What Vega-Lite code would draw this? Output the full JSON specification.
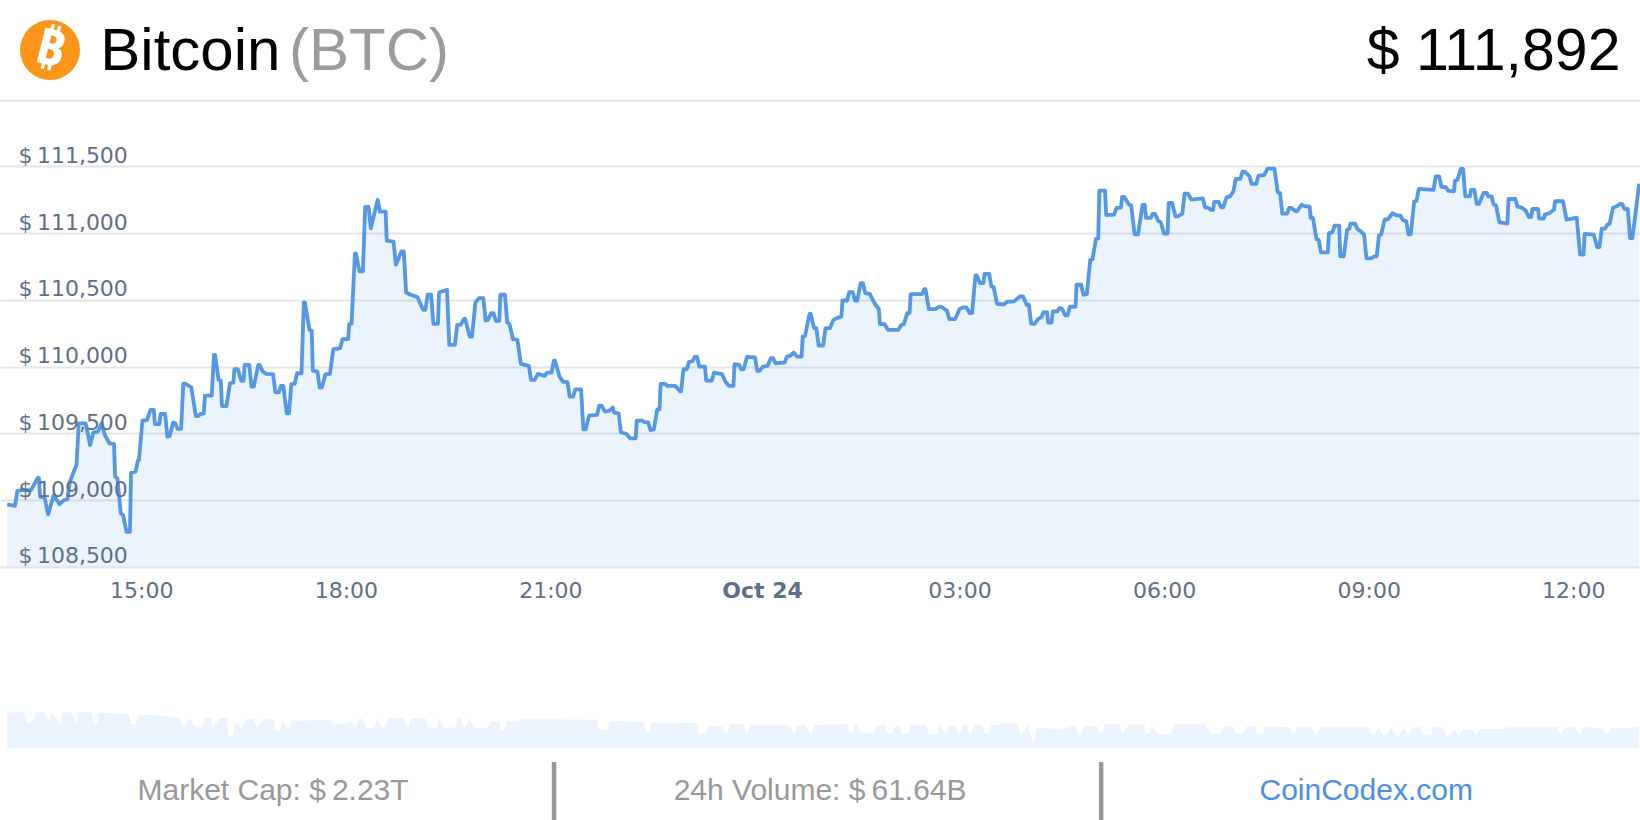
{
"$schema":"https://vega.github.io/schema/vega-lite/v6.json",
"width":1640,"height":820,"padding":0,"autosize":{"type":"none"},"background":"white","view":{"stroke":null},
"datasets":{
"price":[
{"t":"2025-10-23T13:02","p":108968},{"t":"2025-10-23T13:09","p":108958},{"t":"2025-10-23T13:11","p":109070},{"t":"2025-10-23T13:15","p":109075},{"t":"2025-10-23T13:23","p":109075},{"t":"2025-10-23T13:29","p":109168},{"t":"2025-10-23T13:30","p":109163},{"t":"2025-10-23T13:31","p":109025},{"t":"2025-10-23T13:35","p":109020},{"t":"2025-10-23T13:38","p":108893},{"t":"2025-10-23T13:43","p":109038},{"t":"2025-10-23T13:48","p":108970},{"t":"2025-10-23T13:52","p":109000},{"t":"2025-10-23T13:55","p":109005},{"t":"2025-10-23T13:57","p":109133},
{"t":"2025-10-23T14:00","p":109200},{"t":"2025-10-23T14:03","p":109263},{"t":"2025-10-23T14:05","p":109575},{"t":"2025-10-23T14:11","p":109575},{"t":"2025-10-23T14:15","p":109413},{"t":"2025-10-23T14:18","p":109508},{"t":"2025-10-23T14:22","p":109513},{"t":"2025-10-23T14:25","p":109575},{"t":"2025-10-23T14:28","p":109488},{"t":"2025-10-23T14:32","p":109425},{"t":"2025-10-23T14:36","p":109420},{"t":"2025-10-23T14:37","p":109175},{"t":"2025-10-23T14:39","p":109163},{"t":"2025-10-23T14:42","p":108900},{"t":"2025-10-23T14:44","p":108888},{"t":"2025-10-23T14:47","p":108763},{"t":"2025-10-23T14:50","p":108763},{"t":"2025-10-23T14:51","p":109205},{"t":"2025-10-23T14:55","p":109213},{"t":"2025-10-23T14:57","p":109295},{"t":"2025-10-23T14:58","p":109300},
{"t":"2025-10-23T15:01","p":109595},{"t":"2025-10-23T15:05","p":109600},{"t":"2025-10-23T15:08","p":109675},{"t":"2025-10-23T15:11","p":109675},{"t":"2025-10-23T15:12","p":109570},{"t":"2025-10-23T15:16","p":109570},{"t":"2025-10-23T15:17","p":109645},{"t":"2025-10-23T15:21","p":109645},{"t":"2025-10-23T15:23","p":109475},{"t":"2025-10-23T15:25","p":109480},{"t":"2025-10-23T15:28","p":109580},{"t":"2025-10-23T15:30","p":109575},{"t":"2025-10-23T15:32","p":109533},{"t":"2025-10-23T15:35","p":109533},{"t":"2025-10-23T15:37","p":109870},{"t":"2025-10-23T15:39","p":109870},{"t":"2025-10-23T15:44","p":109845},{"t":"2025-10-23T15:48","p":109630},{"t":"2025-10-23T15:50","p":109630},{"t":"2025-10-23T15:52","p":109645},{"t":"2025-10-23T15:55","p":109650},{"t":"2025-10-23T15:56","p":109783},
{"t":"2025-10-23T16:02","p":109783},{"t":"2025-10-23T16:04","p":110088},{"t":"2025-10-23T16:05","p":110088},{"t":"2025-10-23T16:08","p":109900},{"t":"2025-10-23T16:10","p":109895},{"t":"2025-10-23T16:11","p":109705},{"t":"2025-10-23T16:15","p":109705},{"t":"2025-10-23T16:18","p":109875},{"t":"2025-10-23T16:21","p":109880},{"t":"2025-10-23T16:22","p":109980},{"t":"2025-10-23T16:25","p":109980},{"t":"2025-10-23T16:28","p":109893},{"t":"2025-10-23T16:30","p":109893},{"t":"2025-10-23T16:31","p":110013},{"t":"2025-10-23T16:35","p":110013},{"t":"2025-10-23T16:37","p":109850},{"t":"2025-10-23T16:39","p":109850},{"t":"2025-10-23T16:43","p":110013},{"t":"2025-10-23T16:44","p":110013},{"t":"2025-10-23T16:47","p":109963},{"t":"2025-10-23T16:50","p":109945},{"t":"2025-10-23T16:56","p":109943},{"t":"2025-10-23T16:58","p":109808},
{"t":"2025-10-23T17:01","p":109808},{"t":"2025-10-23T17:03","p":109855},{"t":"2025-10-23T17:05","p":109855},{"t":"2025-10-23T17:08","p":109650},{"t":"2025-10-23T17:10","p":109650},{"t":"2025-10-23T17:12","p":109868},{"t":"2025-10-23T17:15","p":109870},{"t":"2025-10-23T17:17","p":109950},{"t":"2025-10-23T17:21","p":109950},{"t":"2025-10-23T17:23","p":110480},{"t":"2025-10-23T17:24","p":110480},{"t":"2025-10-23T17:28","p":110275},{"t":"2025-10-23T17:30","p":110270},{"t":"2025-10-23T17:31","p":109970},{"t":"2025-10-23T17:35","p":109963},{"t":"2025-10-23T17:37","p":109843},{"t":"2025-10-23T17:39","p":109845},{"t":"2025-10-23T17:42","p":109943},{"t":"2025-10-23T17:46","p":109945},{"t":"2025-10-23T17:49","p":110130},{"t":"2025-10-23T17:55","p":110138},{"t":"2025-10-23T17:57","p":110205},
{"t":"2025-10-23T18:02","p":110205},{"t":"2025-10-23T18:03","p":110318},{"t":"2025-10-23T18:05","p":110320},{"t":"2025-10-23T18:08","p":110845},{"t":"2025-10-23T18:09","p":110845},{"t":"2025-10-23T18:12","p":110713},{"t":"2025-10-23T18:15","p":110713},{"t":"2025-10-23T18:17","p":111195},{"t":"2025-10-23T18:20","p":111195},{"t":"2025-10-23T18:22","p":111036},{"t":"2025-10-23T18:28","p":111248},{"t":"2025-10-23T18:30","p":111160},{"t":"2025-10-23T18:35","p":111160},{"t":"2025-10-23T18:36","p":110943},{"t":"2025-10-23T18:42","p":110935},{"t":"2025-10-23T18:44","p":110763},{"t":"2025-10-23T18:49","p":110863},{"t":"2025-10-23T18:51","p":110863},{"t":"2025-10-23T18:53","p":110555},{"t":"2025-10-23T18:57","p":110538},
{"t":"2025-10-23T19:03","p":110520},{"t":"2025-10-23T19:08","p":110425},{"t":"2025-10-23T19:10","p":110425},{"t":"2025-10-23T19:12","p":110538},{"t":"2025-10-23T19:15","p":110538},{"t":"2025-10-23T19:17","p":110320},{"t":"2025-10-23T19:21","p":110320},{"t":"2025-10-23T19:22","p":110555},{"t":"2025-10-23T19:29","p":110575},{"t":"2025-10-23T19:31","p":110163},{"t":"2025-10-23T19:36","p":110163},{"t":"2025-10-23T19:38","p":110313},{"t":"2025-10-23T19:41","p":110313},{"t":"2025-10-23T19:44","p":110358},{"t":"2025-10-23T19:45","p":110358},{"t":"2025-10-23T19:49","p":110225},{"t":"2025-10-23T19:51","p":110225},{"t":"2025-10-23T19:54","p":110480},{"t":"2025-10-23T19:57","p":110513},
{"t":"2025-10-23T20:01","p":110513},{"t":"2025-10-23T20:03","p":110345},{"t":"2025-10-23T20:05","p":110350},{"t":"2025-10-23T20:08","p":110400},{"t":"2025-10-23T20:10","p":110400},{"t":"2025-10-23T20:12","p":110343},{"t":"2025-10-23T20:15","p":110343},{"t":"2025-10-23T20:16","p":110538},{"t":"2025-10-23T20:20","p":110538},{"t":"2025-10-23T20:22","p":110330},{"t":"2025-10-23T20:24","p":110320},{"t":"2025-10-23T20:27","p":110205},{"t":"2025-10-23T20:31","p":110200},{"t":"2025-10-23T20:34","p":110020},{"t":"2025-10-23T20:41","p":110005},{"t":"2025-10-23T20:43","p":109900},{"t":"2025-10-23T20:46","p":109900},{"t":"2025-10-23T20:49","p":109945},{"t":"2025-10-23T20:55","p":109930},{"t":"2025-10-23T20:57","p":109955},
{"t":"2025-10-23T21:01","p":109955},{"t":"2025-10-23T21:03","p":110045},{"t":"2025-10-23T21:04","p":110045},{"t":"2025-10-23T21:08","p":109925},{"t":"2025-10-23T21:11","p":109888},{"t":"2025-10-23T21:15","p":109883},{"t":"2025-10-23T21:17","p":109775},{"t":"2025-10-23T21:20","p":109775},{"t":"2025-10-23T21:22","p":109830},{"t":"2025-10-23T21:27","p":109830},{"t":"2025-10-23T21:29","p":109530},{"t":"2025-10-23T21:31","p":109530},{"t":"2025-10-23T21:34","p":109633},{"t":"2025-10-23T21:41","p":109638},{"t":"2025-10-23T21:43","p":109708},{"t":"2025-10-23T21:45","p":109708},{"t":"2025-10-23T21:48","p":109663},{"t":"2025-10-23T21:52","p":109670},{"t":"2025-10-23T21:55","p":109693},{"t":"2025-10-23T21:56","p":109655},
{"t":"2025-10-23T22:00","p":109650},{"t":"2025-10-23T22:02","p":109508},{"t":"2025-10-23T22:07","p":109495},{"t":"2025-10-23T22:10","p":109463},{"t":"2025-10-23T22:15","p":109463},{"t":"2025-10-23T22:16","p":109595},{"t":"2025-10-23T22:21","p":109595},{"t":"2025-10-23T22:23","p":109583},{"t":"2025-10-23T22:26","p":109583},{"t":"2025-10-23T22:28","p":109525},{"t":"2025-10-23T22:31","p":109530},{"t":"2025-10-23T22:34","p":109680},{"t":"2025-10-23T22:36","p":109680},{"t":"2025-10-23T22:37","p":109870},{"t":"2025-10-23T22:41","p":109870},{"t":"2025-10-23T22:43","p":109855},{"t":"2025-10-23T22:50","p":109855},{"t":"2025-10-23T22:54","p":109815},{"t":"2025-10-23T22:55","p":109815},{"t":"2025-10-23T22:57","p":109980},
{"t":"2025-10-23T23:00","p":109980},{"t":"2025-10-23T23:02","p":110035},{"t":"2025-10-23T23:05","p":110040},{"t":"2025-10-23T23:07","p":110073},{"t":"2025-10-23T23:09","p":110073},{"t":"2025-10-23T23:11","p":110000},{"t":"2025-10-23T23:16","p":110000},{"t":"2025-10-23T23:17","p":109895},{"t":"2025-10-23T23:22","p":109895},{"t":"2025-10-23T23:24","p":109955},{"t":"2025-10-23T23:27","p":109950},{"t":"2025-10-23T23:31","p":109943},{"t":"2025-10-23T23:34","p":109888},{"t":"2025-10-23T23:37","p":109855},{"t":"2025-10-23T23:41","p":109855},{"t":"2025-10-23T23:42","p":110018},{"t":"2025-10-23T23:46","p":110013},{"t":"2025-10-23T23:48","p":109980},{"t":"2025-10-23T23:50","p":109980},{"t":"2025-10-23T23:53","p":110073},
{"t":"2025-10-24T00:00","p":110068},{"t":"2025-10-24T00:02","p":109968},{"t":"2025-10-24T00:04","p":109968},{"t":"2025-10-24T00:07","p":110000},{"t":"2025-10-24T00:11","p":110005},{"t":"2025-10-24T00:14","p":110063},{"t":"2025-10-24T00:16","p":110063},{"t":"2025-10-24T00:18","p":110025},{"t":"2025-10-24T00:26","p":110030},{"t":"2025-10-24T00:28","p":110075},{"t":"2025-10-24T00:31","p":110080},{"t":"2025-10-24T00:34","p":110105},{"t":"2025-10-24T00:37","p":110075},{"t":"2025-10-24T00:41","p":110075},{"t":"2025-10-24T00:42","p":110225},{"t":"2025-10-24T00:44","p":110230},{"t":"2025-10-24T00:48","p":110395},{"t":"2025-10-24T00:49","p":110395},{"t":"2025-10-24T00:52","p":110288},{"t":"2025-10-24T00:54","p":110288},{"t":"2025-10-24T00:56","p":110158},
{"t":"2025-10-24T01:00","p":110158},{"t":"2025-10-24T01:02","p":110288},{"t":"2025-10-24T01:06","p":110288},{"t":"2025-10-24T01:09","p":110350},{"t":"2025-10-24T01:12","p":110363},{"t":"2025-10-24T01:16","p":110375},{"t":"2025-10-24T01:17","p":110495},{"t":"2025-10-24T01:21","p":110495},{"t":"2025-10-24T01:23","p":110558},{"t":"2025-10-24T01:26","p":110558},{"t":"2025-10-24T01:28","p":110495},{"t":"2025-10-24T01:30","p":110495},{"t":"2025-10-24T01:33","p":110625},{"t":"2025-10-24T01:35","p":110625},{"t":"2025-10-24T01:37","p":110550},{"t":"2025-10-24T01:41","p":110545},{"t":"2025-10-24T01:44","p":110493},{"t":"2025-10-24T01:46","p":110463},{"t":"2025-10-24T01:49","p":110430},{"t":"2025-10-24T01:50","p":110318},{"t":"2025-10-24T01:54","p":110318},{"t":"2025-10-24T01:57","p":110275},
{"t":"2025-10-24T02:06","p":110275},{"t":"2025-10-24T02:09","p":110313},{"t":"2025-10-24T02:11","p":110318},{"t":"2025-10-24T02:14","p":110400},{"t":"2025-10-24T02:16","p":110400},{"t":"2025-10-24T02:17","p":110543},{"t":"2025-10-24T02:27","p":110543},{"t":"2025-10-24T02:29","p":110580},{"t":"2025-10-24T02:30","p":110580},{"t":"2025-10-24T02:33","p":110430},{"t":"2025-10-24T02:39","p":110430},{"t":"2025-10-24T02:42","p":110448},{"t":"2025-10-24T02:44","p":110448},{"t":"2025-10-24T02:49","p":110418},{"t":"2025-10-24T02:51","p":110355},{"t":"2025-10-24T02:56","p":110355},
{"t":"2025-10-24T03:00","p":110430},{"t":"2025-10-24T03:03","p":110443},{"t":"2025-10-24T03:06","p":110443},{"t":"2025-10-24T03:09","p":110400},{"t":"2025-10-24T03:11","p":110400},{"t":"2025-10-24T03:14","p":110683},{"t":"2025-10-24T03:15","p":110683},{"t":"2025-10-24T03:18","p":110625},{"t":"2025-10-24T03:21","p":110625},{"t":"2025-10-24T03:22","p":110695},{"t":"2025-10-24T03:26","p":110695},{"t":"2025-10-24T03:28","p":110600},{"t":"2025-10-24T03:30","p":110595},{"t":"2025-10-24T03:33","p":110470},{"t":"2025-10-24T03:39","p":110465},{"t":"2025-10-24T03:42","p":110485},{"t":"2025-10-24T03:48","p":110488},{"t":"2025-10-24T03:53","p":110525},{"t":"2025-10-24T03:56","p":110525},{"t":"2025-10-24T03:59","p":110463},
{"t":"2025-10-24T04:01","p":110463},{"t":"2025-10-24T04:03","p":110320},{"t":"2025-10-24T04:06","p":110320},{"t":"2025-10-24T04:09","p":110355},{"t":"2025-10-24T04:12","p":110370},{"t":"2025-10-24T04:14","p":110408},{"t":"2025-10-24T04:17","p":110408},{"t":"2025-10-24T04:18","p":110330},{"t":"2025-10-24T04:21","p":110330},{"t":"2025-10-24T04:22","p":110413},{"t":"2025-10-24T04:26","p":110413},{"t":"2025-10-24T04:28","p":110440},{"t":"2025-10-24T04:30","p":110435},{"t":"2025-10-24T04:33","p":110383},{"t":"2025-10-24T04:35","p":110383},{"t":"2025-10-24T04:37","p":110448},{"t":"2025-10-24T04:42","p":110448},{"t":"2025-10-24T04:43","p":110613},{"t":"2025-10-24T04:47","p":110613},{"t":"2025-10-24T04:49","p":110538},{"t":"2025-10-24T04:52","p":110543},{"t":"2025-10-24T04:55","p":110800},{"t":"2025-10-24T04:57","p":110805},
{"t":"2025-10-24T05:00","p":110955},{"t":"2025-10-24T05:02","p":110960},{"t":"2025-10-24T05:03","p":111318},{"t":"2025-10-24T05:08","p":111318},{"t":"2025-10-24T05:09","p":111135},{"t":"2025-10-24T05:16","p":111138},{"t":"2025-10-24T05:18","p":111188},{"t":"2025-10-24T05:22","p":111190},{"t":"2025-10-24T05:23","p":111270},{"t":"2025-10-24T05:25","p":111270},{"t":"2025-10-24T05:29","p":111213},{"t":"2025-10-24T05:31","p":111208},{"t":"2025-10-24T05:34","p":110990},{"t":"2025-10-24T05:37","p":110990},{"t":"2025-10-24T05:41","p":111210},{"t":"2025-10-24T05:43","p":111210},{"t":"2025-10-24T05:44","p":111113},{"t":"2025-10-24T05:48","p":111113},{"t":"2025-10-24T05:50","p":111143},{"t":"2025-10-24T05:52","p":111143},{"t":"2025-10-24T05:55","p":111088},{"t":"2025-10-24T05:57","p":111083},
{"t":"2025-10-24T06:00","p":110995},{"t":"2025-10-24T06:03","p":110995},{"t":"2025-10-24T06:04","p":111225},{"t":"2025-10-24T06:07","p":111225},{"t":"2025-10-24T06:10","p":111125},{"t":"2025-10-24T06:12","p":111125},{"t":"2025-10-24T06:16","p":111145},{"t":"2025-10-24T06:18","p":111295},{"t":"2025-10-24T06:21","p":111295},{"t":"2025-10-24T06:24","p":111250},{"t":"2025-10-24T06:34","p":111260},{"t":"2025-10-24T06:36","p":111193},{"t":"2025-10-24T06:39","p":111188},{"t":"2025-10-24T06:41","p":111173},{"t":"2025-10-24T06:43","p":111173},{"t":"2025-10-24T06:44","p":111233},{"t":"2025-10-24T06:48","p":111233},{"t":"2025-10-24T06:50","p":111193},{"t":"2025-10-24T06:52","p":111193},{"t":"2025-10-24T06:55","p":111268},{"t":"2025-10-24T06:58","p":111275},
{"t":"2025-10-24T07:01","p":111313},{"t":"2025-10-24T07:03","p":111405},{"t":"2025-10-24T07:07","p":111405},{"t":"2025-10-24T07:09","p":111460},{"t":"2025-10-24T07:11","p":111460},{"t":"2025-10-24T07:15","p":111425},{"t":"2025-10-24T07:17","p":111368},{"t":"2025-10-24T07:21","p":111368},{"t":"2025-10-24T07:23","p":111430},{"t":"2025-10-24T07:28","p":111433},{"t":"2025-10-24T07:31","p":111483},{"t":"2025-10-24T07:37","p":111483},{"t":"2025-10-24T07:40","p":111305},{"t":"2025-10-24T07:42","p":111300},{"t":"2025-10-24T07:44","p":111145},{"t":"2025-10-24T07:48","p":111145},{"t":"2025-10-24T07:50","p":111188},{"t":"2025-10-24T07:52","p":111188},{"t":"2025-10-24T07:56","p":111163},{"t":"2025-10-24T07:57","p":111163},
{"t":"2025-10-24T08:01","p":111213},{"t":"2025-10-24T08:04","p":111200},{"t":"2025-10-24T08:08","p":111200},{"t":"2025-10-24T08:09","p":111113},{"t":"2025-10-24T08:11","p":111113},{"t":"2025-10-24T08:14","p":110955},{"t":"2025-10-24T08:16","p":110950},{"t":"2025-10-24T08:18","p":110855},{"t":"2025-10-24T08:24","p":110855},{"t":"2025-10-24T08:25","p":111000},{"t":"2025-10-24T08:28","p":111005},{"t":"2025-10-24T08:30","p":111055},{"t":"2025-10-24T08:34","p":111055},{"t":"2025-10-24T08:35","p":110825},{"t":"2025-10-24T08:38","p":110825},{"t":"2025-10-24T08:41","p":111025},{"t":"2025-10-24T08:43","p":111030},{"t":"2025-10-24T08:44","p":111070},{"t":"2025-10-24T08:48","p":111070},{"t":"2025-10-24T08:50","p":111030},{"t":"2025-10-24T08:53","p":111013},{"t":"2025-10-24T08:56","p":110988},{"t":"2025-10-24T08:58","p":110810},
{"t":"2025-10-24T09:02","p":110810},{"t":"2025-10-24T09:05","p":110825},{"t":"2025-10-24T09:07","p":110825},{"t":"2025-10-24T09:09","p":110983},{"t":"2025-10-24T09:11","p":110988},{"t":"2025-10-24T09:14","p":111100},{"t":"2025-10-24T09:17","p":111105},{"t":"2025-10-24T09:21","p":111148},{"t":"2025-10-24T09:24","p":111135},{"t":"2025-10-24T09:28","p":111130},{"t":"2025-10-24T09:30","p":111098},{"t":"2025-10-24T09:33","p":111088},{"t":"2025-10-24T09:35","p":110990},{"t":"2025-10-24T09:37","p":110990},{"t":"2025-10-24T09:40","p":111235},{"t":"2025-10-24T09:42","p":111240},{"t":"2025-10-24T09:44","p":111330},{"t":"2025-10-24T09:57","p":111323},{"t":"2025-10-24T09:59","p":111425},
{"t":"2025-10-24T10:02","p":111425},{"t":"2025-10-24T10:04","p":111345},{"t":"2025-10-24T10:08","p":111343},{"t":"2025-10-24T10:10","p":111315},{"t":"2025-10-24T10:15","p":111313},{"t":"2025-10-24T10:16","p":111393},{"t":"2025-10-24T10:18","p":111398},{"t":"2025-10-24T10:21","p":111480},{"t":"2025-10-24T10:23","p":111480},{"t":"2025-10-24T10:25","p":111275},{"t":"2025-10-24T10:29","p":111275},{"t":"2025-10-24T10:30","p":111323},{"t":"2025-10-24T10:33","p":111323},{"t":"2025-10-24T10:35","p":111218},{"t":"2025-10-24T10:37","p":111218},{"t":"2025-10-24T10:41","p":111300},{"t":"2025-10-24T10:44","p":111300},{"t":"2025-10-24T10:45","p":111275},{"t":"2025-10-24T10:48","p":111275},{"t":"2025-10-24T10:50","p":111213},{"t":"2025-10-24T10:52","p":111208},{"t":"2025-10-24T10:55","p":111080},
{"t":"2025-10-24T11:02","p":111070},{"t":"2025-10-24T11:03","p":111255},{"t":"2025-10-24T11:09","p":111255},{"t":"2025-10-24T11:11","p":111198},{"t":"2025-10-24T11:14","p":111193},{"t":"2025-10-24T11:18","p":111170},{"t":"2025-10-24T11:21","p":111120},{"t":"2025-10-24T11:23","p":111120},{"t":"2025-10-24T11:24","p":111180},{"t":"2025-10-24T11:29","p":111180},{"t":"2025-10-24T11:30","p":111108},{"t":"2025-10-24T11:34","p":111108},{"t":"2025-10-24T11:35","p":111138},{"t":"2025-10-24T11:39","p":111150},{"t":"2025-10-24T11:43","p":111175},{"t":"2025-10-24T11:44","p":111238},{"t":"2025-10-24T11:51","p":111238},{"t":"2025-10-24T11:54","p":111100},{"t":"2025-10-24T11:57","p":111105},
{"t":"2025-10-24T12:03","p":111115},{"t":"2025-10-24T12:06","p":110838},{"t":"2025-10-24T12:09","p":110838},{"t":"2025-10-24T12:10","p":110993},{"t":"2025-10-24T12:18","p":110988},{"t":"2025-10-24T12:21","p":110895},{"t":"2025-10-24T12:23","p":110895},{"t":"2025-10-24T12:25","p":111033},{"t":"2025-10-24T12:28","p":111033},{"t":"2025-10-24T12:30","p":111063},{"t":"2025-10-24T12:32","p":111070},{"t":"2025-10-24T12:35","p":111190},{"t":"2025-10-24T12:38","p":111200},{"t":"2025-10-24T12:41","p":111218},{"t":"2025-10-24T12:43","p":111218},{"t":"2025-10-24T12:45","p":111180},{"t":"2025-10-24T12:48","p":111180},{"t":"2025-10-24T12:50","p":110963},{"t":"2025-10-24T12:52","p":110963},{"t":"2025-10-24T12:58","p":111370}
],
"volume":[
{"t":"2025-10-23T13:02","v":106},{"t":"2025-10-23T13:07","v":108},{"t":"2025-10-23T13:16","v":109},{"t":"2025-10-23T13:19","v":75},{"t":"2025-10-23T13:24","v":75},{"t":"2025-10-23T13:27","v":108},{"t":"2025-10-23T13:35","v":109},{"t":"2025-10-23T13:38","v":75},{"t":"2025-10-23T13:41","v":108},{"t":"2025-10-23T13:49","v":75},{"t":"2025-10-23T13:51","v":108},{"t":"2025-10-23T13:58","v":108},
{"t":"2025-10-23T14:03","v":75},{"t":"2025-10-23T14:05","v":108},{"t":"2025-10-23T14:16","v":108},{"t":"2025-10-23T14:18","v":75},{"t":"2025-10-23T14:21","v":75},{"t":"2025-10-23T14:23","v":107},{"t":"2025-10-23T14:49","v":102},{"t":"2025-10-23T14:51","v":72},{"t":"2025-10-23T14:55","v":72},{"t":"2025-10-23T14:57","v":100},
{"t":"2025-10-23T15:14","v":99},{"t":"2025-10-23T15:25","v":95},{"t":"2025-10-23T15:34","v":91},{"t":"2025-10-23T15:37","v":65},{"t":"2025-10-23T15:43","v":91},{"t":"2025-10-23T15:47","v":63},{"t":"2025-10-23T15:54","v":63},{"t":"2025-10-23T15:56","v":91},
{"t":"2025-10-23T16:01","v":91},{"t":"2025-10-23T16:03","v":62},{"t":"2025-10-23T16:09","v":91},{"t":"2025-10-23T16:15","v":91},{"t":"2025-10-23T16:17","v":35},{"t":"2025-10-23T16:20","v":35},{"t":"2025-10-23T16:23","v":83},{"t":"2025-10-23T16:28","v":55},{"t":"2025-10-23T16:32","v":88},{"t":"2025-10-23T16:39","v":88},{"t":"2025-10-23T16:42","v":60},{"t":"2025-10-23T16:47","v":87},{"t":"2025-10-23T16:56","v":87},{"t":"2025-10-23T16:58","v":52},
{"t":"2025-10-23T17:02","v":52},{"t":"2025-10-23T17:04","v":85},{"t":"2025-10-23T17:09","v":57},{"t":"2025-10-23T17:12","v":83},{"t":"2025-10-23T17:46","v":85},{"t":"2025-10-23T17:49","v":73},
{"t":"2025-10-23T18:01","v":75},{"t":"2025-10-23T18:04","v":85},{"t":"2025-10-23T18:09","v":58},{"t":"2025-10-23T18:11","v":88},{"t":"2025-10-23T18:15","v":88},{"t":"2025-10-23T18:18","v":62},{"t":"2025-10-23T18:24","v":62},{"t":"2025-10-23T18:28","v":90},{"t":"2025-10-23T18:31","v":64},{"t":"2025-10-23T18:35","v":64},{"t":"2025-10-23T18:37","v":90},{"t":"2025-10-23T18:50","v":90},{"t":"2025-10-23T18:55","v":62},{"t":"2025-10-23T18:57","v":90},
{"t":"2025-10-23T19:10","v":90},{"t":"2025-10-23T19:12","v":63},{"t":"2025-10-23T19:20","v":63},{"t":"2025-10-23T19:22","v":90},{"t":"2025-10-23T19:27","v":62},{"t":"2025-10-23T19:36","v":62},{"t":"2025-10-23T19:38","v":90},{"t":"2025-10-23T19:41","v":90},{"t":"2025-10-23T19:44","v":60},{"t":"2025-10-23T19:49","v":89},{"t":"2025-10-23T19:54","v":61},
{"t":"2025-10-23T20:04","v":61},{"t":"2025-10-23T20:08","v":82},{"t":"2025-10-23T20:15","v":82},{"t":"2025-10-23T20:17","v":55},{"t":"2025-10-23T20:20","v":55},{"t":"2025-10-23T20:22","v":82},{"t":"2025-10-23T20:30","v":82},{"t":"2025-10-23T20:35","v":87},
{"t":"2025-10-23T21:41","v":86},{"t":"2025-10-23T21:43","v":55},{"t":"2025-10-23T21:50","v":55},{"t":"2025-10-23T21:53","v":83},
{"t":"2025-10-23T22:22","v":80},{"t":"2025-10-23T22:24","v":51},{"t":"2025-10-23T22:27","v":51},{"t":"2025-10-23T22:29","v":78},
{"t":"2025-10-23T23:09","v":75},{"t":"2025-10-23T23:11","v":43},{"t":"2025-10-23T23:16","v":43},{"t":"2025-10-23T23:18","v":67},{"t":"2025-10-23T23:31","v":67},{"t":"2025-10-23T23:34","v":47},{"t":"2025-10-23T23:36","v":47},{"t":"2025-10-23T23:38","v":72},{"t":"2025-10-23T23:49","v":72},{"t":"2025-10-23T23:53","v":45},{"t":"2025-10-23T23:56","v":70},
{"t":"2025-10-24T00:29","v":70},{"t":"2025-10-24T00:35","v":43},{"t":"2025-10-24T00:37","v":70},{"t":"2025-10-24T00:44","v":70},{"t":"2025-10-24T00:49","v":43},{"t":"2025-10-24T00:53","v":70},
{"t":"2025-10-24T01:21","v":72},{"t":"2025-10-24T01:23","v":47},{"t":"2025-10-24T01:26","v":47},{"t":"2025-10-24T01:28","v":73},{"t":"2025-10-24T01:30","v":73},{"t":"2025-10-24T01:34","v":46},{"t":"2025-10-24T01:44","v":46},{"t":"2025-10-24T01:48","v":70},{"t":"2025-10-24T01:54","v":70},{"t":"2025-10-24T01:57","v":43},
{"t":"2025-10-24T02:01","v":43},{"t":"2025-10-24T02:04","v":70},{"t":"2025-10-24T02:07","v":70},{"t":"2025-10-24T02:09","v":43},{"t":"2025-10-24T02:15","v":43},{"t":"2025-10-24T02:17","v":70},{"t":"2025-10-24T02:30","v":70},{"t":"2025-10-24T02:33","v":43},{"t":"2025-10-24T02:40","v":43},{"t":"2025-10-24T02:42","v":70},{"t":"2025-10-24T02:48","v":43},{"t":"2025-10-24T02:51","v":70},{"t":"2025-10-24T02:56","v":70},
{"t":"2025-10-24T03:00","v":43},{"t":"2025-10-24T03:03","v":70},{"t":"2025-10-24T03:06","v":70},{"t":"2025-10-24T03:09","v":43},{"t":"2025-10-24T03:14","v":70},{"t":"2025-10-24T03:20","v":70},{"t":"2025-10-24T03:22","v":43},{"t":"2025-10-24T03:26","v":43},{"t":"2025-10-24T03:28","v":70},{"t":"2025-10-24T03:35","v":70},{"t":"2025-10-24T03:37","v":77},{"t":"2025-10-24T03:50","v":77},{"t":"2025-10-24T03:54","v":43},
{"t":"2025-10-24T04:00","v":70},{"t":"2025-10-24T04:04","v":23},{"t":"2025-10-24T04:06","v":23},{"t":"2025-10-24T04:08","v":60},{"t":"2025-10-24T04:30","v":59},{"t":"2025-10-24T04:42","v":67},{"t":"2025-10-24T04:44","v":40},{"t":"2025-10-24T04:47","v":40},{"t":"2025-10-24T04:49","v":67},
{"t":"2025-10-24T05:01","v":67},{"t":"2025-10-24T05:03","v":45},{"t":"2025-10-24T05:06","v":45},{"t":"2025-10-24T05:08","v":72},{"t":"2025-10-24T05:20","v":72},{"t":"2025-10-24T05:23","v":45},{"t":"2025-10-24T05:29","v":71},{"t":"2025-10-24T05:42","v":71},{"t":"2025-10-24T05:44","v":43},{"t":"2025-10-24T05:47","v":43},{"t":"2025-10-24T05:49","v":71},{"t":"2025-10-24T05:54","v":43},
{"t":"2025-10-24T06:06","v":43},{"t":"2025-10-24T06:08","v":72},{"t":"2025-10-24T06:36","v":72},{"t":"2025-10-24T06:41","v":43},{"t":"2025-10-24T06:49","v":43},{"t":"2025-10-24T06:54","v":67},
{"t":"2025-10-24T07:00","v":67},{"t":"2025-10-24T07:03","v":43},{"t":"2025-10-24T07:09","v":43},{"t":"2025-10-24T07:13","v":67},{"t":"2025-10-24T07:20","v":67},{"t":"2025-10-24T07:22","v":42},{"t":"2025-10-24T07:27","v":42},{"t":"2025-10-24T07:29","v":66},{"t":"2025-10-24T07:49","v":64},{"t":"2025-10-24T07:54","v":40},{"t":"2025-10-24T07:57","v":63},
{"t":"2025-10-24T08:09","v":63},{"t":"2025-10-24T08:14","v":39},{"t":"2025-10-24T08:17","v":63},
{"t":"2025-10-24T09:00","v":63},{"t":"2025-10-24T09:02","v":39},{"t":"2025-10-24T09:05","v":39},{"t":"2025-10-24T09:08","v":63},{"t":"2025-10-24T09:13","v":40},{"t":"2025-10-24T09:16","v":40},{"t":"2025-10-24T09:20","v":63},{"t":"2025-10-24T09:24","v":38},{"t":"2025-10-24T09:27","v":38},{"t":"2025-10-24T09:29","v":58},{"t":"2025-10-24T09:32","v":58},{"t":"2025-10-24T09:35","v":40},{"t":"2025-10-24T09:39","v":63},{"t":"2025-10-24T09:46","v":63},{"t":"2025-10-24T09:48","v":40},{"t":"2025-10-24T09:55","v":40},{"t":"2025-10-24T09:57","v":63},
{"t":"2025-10-24T10:05","v":63},{"t":"2025-10-24T10:08","v":38},{"t":"2025-10-24T10:12","v":38},{"t":"2025-10-24T10:15","v":58},{"t":"2025-10-24T10:20","v":35},{"t":"2025-10-24T10:23","v":58},{"t":"2025-10-24T10:31","v":55},{"t":"2025-10-24T10:34","v":38},{"t":"2025-10-24T10:39","v":58},
{"t":"2025-10-24T11:01","v":58},{"t":"2025-10-24T11:02","v":63},{"t":"2025-10-24T11:46","v":63},{"t":"2025-10-24T11:49","v":40},{"t":"2025-10-24T11:53","v":63},
{"t":"2025-10-24T12:01","v":63},{"t":"2025-10-24T12:06","v":40},{"t":"2025-10-24T12:09","v":63},{"t":"2025-10-24T12:26","v":60},{"t":"2025-10-24T12:29","v":40},{"t":"2025-10-24T12:33","v":60},{"t":"2025-10-24T12:49","v":61},{"t":"2025-10-24T12:58","v":66}
]
},
"layer":[
{"data":{"name":"volume"},"mark":{"type":"area","color":"#4a90e2","opacity":0.11},
 "encoding":{
  "x":{"field":"t","type":"temporal","axis":null},
  "y":{"field":"v","type":"quantitative","stack":null,"axis":null,"scale":{"domain":[-215,2245],"nice":false,"zero":false}}}},
{"layer":[
 {"data":{"name":"price"},"mark":{"type":"area","color":"#4a90e2","opacity":0.11},
  "encoding":{
   "x":{"field":"t","type":"temporal","title":null,
    "scale":{"domain":["2025-10-23T12:55:42","2025-10-24T12:58:42"],"nice":false},
    "axis":{"orient":"bottom","offset":-253,"title":null,"domain":false,"ticks":false,"grid":false,"labelOverlap":false,"labelPadding":13,
     "labelFont":"DejaVu Sans","labelFontSize":22,"labelColor":"#5e6f8c",
     "labelFontWeight":{"condition":{"test":"hours(datum.value)===0","value":"bold"},"value":"normal"},
     "labelOffset":{"condition":{"test":"hours(datum.value)===0","value":7},"value":0},
     "values":[{"year":2025,"month":10,"date":23,"hours":15},{"year":2025,"month":10,"date":23,"hours":18},{"year":2025,"month":10,"date":23,"hours":21},{"year":2025,"month":10,"date":24,"hours":0},{"year":2025,"month":10,"date":24,"hours":3},{"year":2025,"month":10,"date":24,"hours":6},{"year":2025,"month":10,"date":24,"hours":9},{"year":2025,"month":10,"date":24,"hours":12}],
     "labelExpr":"hours(datum.value)===0 ? 'Oct 24' : timeFormat(datum.value,'%H:%M')"}},
   "y":{"field":"p","type":"quantitative","title":null,
    "scale":{"domain":[106605,112745],"nice":false,"zero":false},
    "axis":{"orient":"left","title":null,"grid":true,"gridColor":"#e6e6e6","gridWidth":2,"labels":false,"ticks":false,"domain":false,"zindex":0,"values":[108500,109000,109500,110000,110500,111000,111500]}},
   "y2":{"datum":108500}}},
 {"data":{"name":"price"},"mark":{"type":"line","color":"#5598e5","strokeWidth":3.8,"strokeJoin":"round"},
  "encoding":{
   "x":{"field":"t","type":"temporal","axis":null},
   "y":{"field":"p","type":"quantitative",
    "axis":{"orient":"left","title":null,"grid":false,"ticks":false,"domain":false,"zindex":1,"labelAlign":"left","labelBaseline":"alphabetic","labelPadding":-18,"labelOffset":-4,"labelOverlap":false,
     "labelFont":"DejaVu Sans","labelFontSize":22,"labelColor":"#5e6f8c","values":[108500,109000,109500,110000,110500,111000,111500],
     "labelExpr":"'$\u2009' + format(datum.value,',')"}}}},
 {"data":{"values":[{"name":"header rule"}]},"mark":{"type":"rule","color":"#e6e6e6","strokeWidth":2},
  "encoding":{"y":{"datum":111991,"axis":null}}},
 {"data":{"values":[{"label":"icon"}]},"mark":{"type":"circle","color":"#fc951a","opacity":1,"size":3600},
  "encoding":{"x":{"datum":{"year":2025,"month":10,"date":23,"hours":13,"minutes":39,"seconds":42},"axis":null},"y":{"datum":112371,"axis":null}}},
 {"data":{"values":[{"label":"\u20bf"}]},"mark":{"type":"text","font":"Noto Sans","fontWeight":"bold","fontSize":50,"color":"white","angle":14,"align":"center","baseline":"middle"},
  "encoding":{"x":{"datum":{"year":2025,"month":10,"date":23,"hours":13,"minutes":39,"seconds":42},"axis":null},"y":{"datum":112371,"axis":null},"text":{"field":"label"}}},
 {"data":{"values":[{"label":"Bitcoin"}]},"mark":{"type":"text","font":"Liberation Sans","fontSize":60,"color":"#000000","align":"left","baseline":"alphabetic"},
  "encoding":{"x":{"datum":{"year":2025,"month":10,"date":23,"hours":14,"minutes":24,"seconds":0},"axis":null},"y":{"datum":112221,"axis":null},"text":{"field":"label"}}},
 {"data":{"values":[{"label":"(BTC)"}]},"mark":{"type":"text","font":"Liberation Sans","fontSize":60,"color":"#9b9b9b","align":"left","baseline":"alphabetic"},
  "encoding":{"x":{"datum":{"year":2025,"month":10,"date":23,"hours":17,"minutes":10,"seconds":0},"axis":null},"y":{"datum":112221,"axis":null},"text":{"field":"label"}}},
 {"data":{"values":[{"label":"$ 111,892"}]},"mark":{"type":"text","font":"Liberation Sans","fontSize":59,"color":"#000000","align":"right","baseline":"alphabetic"},
  "encoding":{"x":{"datum":{"year":2025,"month":10,"date":24,"hours":12,"minutes":41,"seconds":30},"axis":null},"y":{"datum":112221,"axis":null},"text":{"field":"label"}}},
 {"data":{"values":[{"label":"Market Cap: $\u20092.23T"}]},"mark":{"type":"text","font":"Liberation Sans","fontSize":30,"color":"#999999","align":"center","baseline":"alphabetic"},
  "encoding":{"x":{"datum":{"year":2025,"month":10,"date":23,"hours":16,"minutes":55,"seconds":56},"axis":null},"y":{"datum":106755,"axis":null},"text":{"field":"label"}}},
 {"data":{"values":[{"label":"24h Volume: $\u200961.64B"}]},"mark":{"type":"text","font":"Liberation Sans","fontSize":30,"color":"#999999","align":"center","baseline":"alphabetic"},
  "encoding":{"x":{"datum":{"year":2025,"month":10,"date":24,"hours":0,"minutes":57,"seconds":18},"axis":null},"y":{"datum":106755,"axis":null},"text":{"field":"label"}}},
 {"data":{"values":[{"label":"CoinCodex.com"}]},"mark":{"type":"text","font":"Liberation Sans","fontSize":30,"color":"#4a90e2","align":"center","baseline":"alphabetic"},
  "encoding":{"x":{"datum":{"year":2025,"month":10,"date":24,"hours":8,"minutes":57,"seconds":47},"axis":null},"y":{"datum":106755,"axis":null},"text":{"field":"label"}}},
 {"data":{"values":[{"name":"divider 1"}]},"mark":{"type":"rule","color":"#999999","strokeWidth":4.5},
  "encoding":{"x":{"datum":{"year":2025,"month":10,"date":23,"hours":21,"minutes":3,"seconds":12},"axis":null},"y":{"datum":107039,"axis":null},"y2":{"datum":106605}}},
 {"data":{"values":[{"name":"divider 2"}]},"mark":{"type":"rule","color":"#999999","strokeWidth":4.5},
  "encoding":{"x":{"datum":{"year":2025,"month":10,"date":24,"hours":5,"minutes":4,"seconds":36},"axis":null},"y":{"datum":107039,"axis":null},"y2":{"datum":106605}}}
 ],
 "resolve":{"axis":{"x":"independent","y":"independent"}}}
],
"resolve":{"scale":{"y":"independent"},"axis":{"x":"independent","y":"independent"}}
}
